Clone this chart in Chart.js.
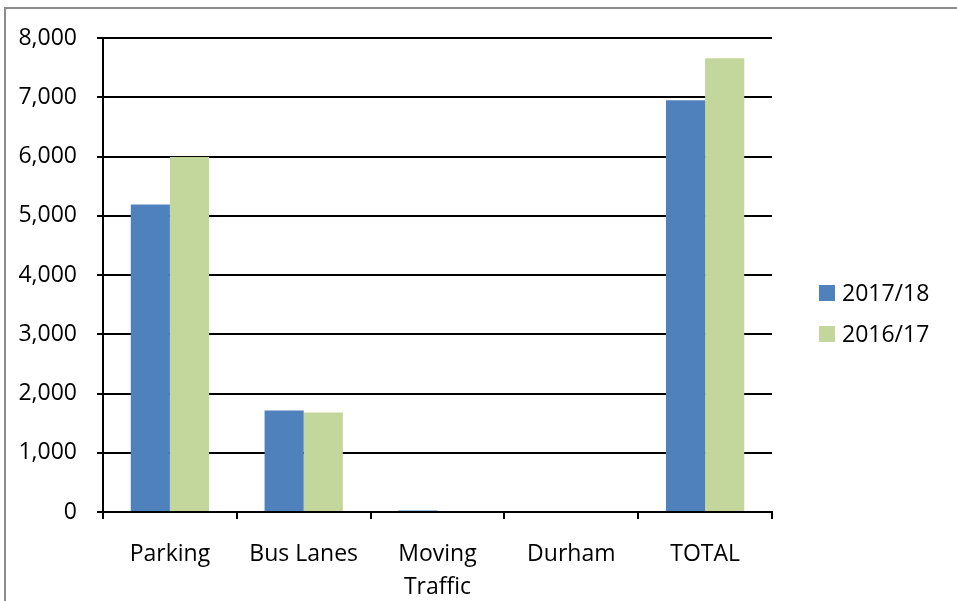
<!DOCTYPE html>
<html>
<head>
<meta charset="utf-8">
<title>Penalty charge notices by type</title>
<script src="https://cdn.jsdelivr.net/npm/chart.js@4/dist/chart.umd.min.js"></script>
<style>
  html, body { margin: 0; padding: 0; background: #fff; }
  #wrap { position: relative; width: 957px; height: 601px; }
</style>
</head>
<body>
<div id="wrap"><canvas id="c" width="957" height="601"></canvas></div>
<script>
// Categories along the x axis ("Moving Traffic" wraps onto two lines)
const categories = ['Parking', 'Bus Lanes', ['Moving', 'Traffic'], 'Durham', 'TOTAL'];

// Series values
const series2017 = [5190, 1715, 25, 0, 6950];
const series2016 = [5990, 1680, 0, 0, 7660];

// Series labels and colours
const seriesLabels = ['2017/18', '2016/17'];
const seriesColors = ['#4F81BD', '#C3D69B'];

// Value axis
const yMin = 0;
const yMax = 8000;
const yStep = 1000;

const FONT = '"Open Sans", "Liberation Sans", sans-serif';

// Outer frame of the chart object
const framePlugin = {
  id: 'frame',
  beforeDraw(chart) {
    const ctx = chart.ctx;
    ctx.save();
    ctx.fillStyle = '#ffffff';
    ctx.fillRect(0, 0, chart.width, chart.height);
    ctx.strokeStyle = '#8c8c8c';
    ctx.lineWidth = 2;
    ctx.beginPath();
    ctx.moveTo(5, chart.height);
    ctx.lineTo(5, 8);
    ctx.lineTo(chart.width, 8);
    ctx.stroke();
    ctx.restore();
  }
};

// Legend at the right: coloured squares with series names
const sideLegend = {
  id: 'sideLegend',
  afterDraw(chart) {
    const ctx = chart.ctx;
    ctx.save();
    ctx.font = '23px ' + FONT;
    ctx.textBaseline = 'middle';
    ctx.textAlign = 'left';
    chart.data.datasets.forEach((ds, i) => {
      const cy = 293 + i * 41;
      ctx.fillStyle = ds.backgroundColor;
      ctx.fillRect(819, cy - 8, 16, 16);
      ctx.fillStyle = '#000';
      ctx.fillText(ds.label, 842, cy + 1);
    });
    ctx.restore();
  }
};

new Chart(document.getElementById('c'), {
  type: 'bar',
  data: {
    labels: categories,
    datasets: [
      { label: seriesLabels[0], data: series2017, backgroundColor: seriesColors[0] },
      { label: seriesLabels[1], data: series2016, backgroundColor: seriesColors[1] }
    ]
  },
  options: {
    responsive: false,
    animation: false,
    devicePixelRatio: 1,
    layout: { padding: { top: 38, right: 185, bottom: 0, left: 0 } },
    datasets: {
      bar: { categoryPercentage: 0.585, barPercentage: 1.0, borderWidth: 0 }
    },
    plugins: {
      legend: { display: false },
      tooltip: { enabled: false }
    },
    scales: {
      x: {
        offset: true,
        grid: {
          offset: true,
          drawOnChartArea: false,
          drawTicks: true,
          tickLength: 7,
          color: '#000',
          lineWidth: 2
        },
        border: { display: true, color: '#000', width: 2 },
        ticks: {
          color: '#000',
          font: { family: FONT, size: 23, lineHeight: 1.43 },
          padding: 19,
          maxRotation: 0,
          autoSkip: false
        },
        afterFit(scale) { scale.height = 89; }
      },
      y: {
        min: yMin,
        max: yMax,
        grid: {
          color: '#000',
          lineWidth: 2,
          drawTicks: true,
          tickLength: 6
        },
        border: { display: true, color: '#000', width: 2 },
        ticks: {
          stepSize: yStep,
          color: '#000',
          font: { family: FONT, size: 23 },
          padding: 20,
          callback: (v) => v.toLocaleString('en-GB')
        },
        afterFit(scale) { scale.width = 103; }
      }
    }
  },
  plugins: [framePlugin, sideLegend]
});
</script>
</body>
</html>
